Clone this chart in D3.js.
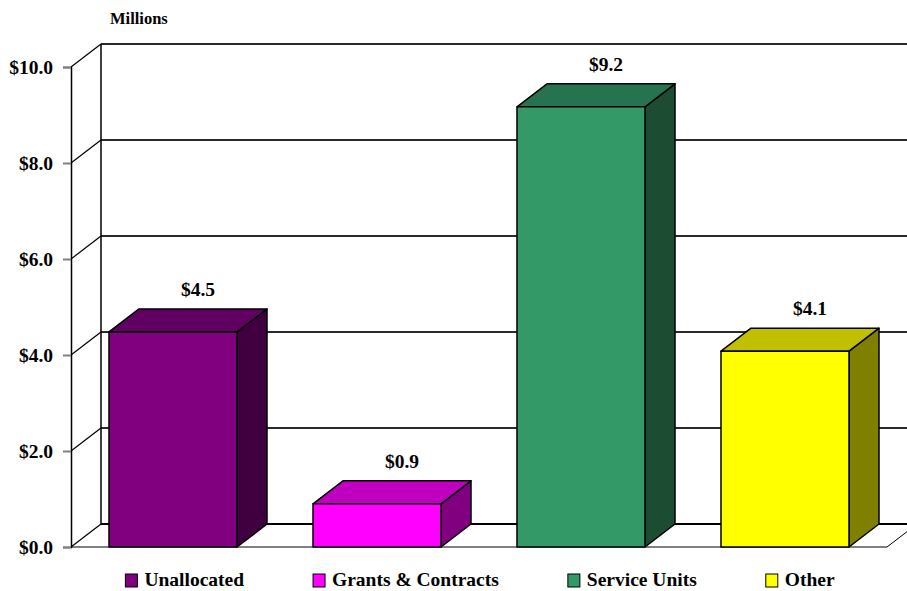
<!DOCTYPE html>
<html>
<head>
<meta charset="utf-8">
<script src="https://cdn.jsdelivr.net/npm/d3@7"></script>
<style>
  html, body { margin: 0; padding: 0; background: #ffffff; }
  svg { display: block; }
  text { font-family: "Liberation Serif", "Times New Roman", serif; font-weight: bold; fill: #000; }
</style>
</head>
<body>
<script>
// ---- Data ----
const categories = ["Unallocated", "Grants & Contracts", "Service Units", "Other"];
const values = [4.48, 0.9, 9.17, 4.08];
const tickValues = [0, 2, 4, 6, 8, 10];
const unitLabel = "Millions";

// ---- Styles ----
const frontColors = ["#800080", "#FF00FF", "#339966", "#FFFF00"];
const topColors   = ["#600060", "#C000C0", "#267350", "#C0C000"];
const sideColors  = ["#400040", "#800080", "#1C4D33", "#808000"];

const W = 907, H = 591;
const svg = d3.select("body").append("svg").attr("width", W).attr("height", H);

const x0 = 71, x1 = 887, yBottom = 547, yTop = 67;
const dx = 30, dy = 23;

const x = d3.scaleBand().domain(categories).range([x0, x1])
  .paddingInner(0.3725).paddingOuter(0.18625);
const y = d3.scaleLinear().domain([0, 10]).range([yBottom, yTop]);

// Gridlines on back wall
const grid = svg.append("g");
tickValues.filter(t => t > 0).forEach(t => {
  grid.append("line")
    .attr("x1", x0 + dx).attr("x2", W + 10)
    .attr("y1", y(t) - dy).attr("y2", y(t) - dy)
    .attr("stroke", "#2a2a2a").attr("stroke-width", 2);
});
// Floor back line
grid.append("line")
  .attr("x1", x0 + dx).attr("x2", W + 10)
  .attr("y1", yBottom - dy).attr("y2", yBottom - dy)
  .attr("stroke", "#000").attr("stroke-width", 2);
// Floor front line
grid.append("line")
  .attr("x1", x0).attr("x2", x1)
  .attr("y1", yBottom).attr("y2", yBottom)
  .attr("stroke", "#808080").attr("stroke-width", 2);
// Floor right diagonal
grid.append("line")
  .attr("x1", x1).attr("y1", yBottom)
  .attr("x2", x1 + dx).attr("y2", yBottom - dy)
  .attr("stroke", "#000").attr("stroke-width", 1);
// Back wall left vertical
grid.append("line")
  .attr("x1", x0 + dx).attr("x2", x0 + dx)
  .attr("y1", y(10) - dy).attr("y2", yBottom - dy)
  .attr("stroke", "#000").attr("stroke-width", 1.5);
// Diagonals from the front axis to the back wall
tickValues.forEach(t => {
  grid.append("line")
    .attr("x1", x0).attr("y1", y(t))
    .attr("x2", x0 + dx).attr("y2", y(t) - dy)
    .attr("stroke", "#000").attr("stroke-width", 1.2);
});

// Front axis
const axis = d3.axisLeft(y).tickValues(tickValues).tickSize(8).tickPadding(10)
  .tickFormat(d => "$" + d3.format(".1f")(d));
const axG = svg.append("g").attr("transform", `translate(${x0},0)`).call(axis);
axG.select(".domain").attr("stroke", "#000").attr("stroke-width", 1.5);
axG.selectAll(".tick line").attr("stroke", "#808080").attr("stroke-width", 2);
axG.selectAll(".tick text")
  .style("font-family", '"Liberation Serif", "Times New Roman", serif')
  .style("font-weight", "bold").style("font-size", "19.5px").attr("fill", "#000");

// Unit label
svg.append("text").attr("x", 110).attr("y", 24)
  .style("font-size", "16.5px").text(unitLabel);

// Bars
const bars = svg.append("g");
categories.forEach((c, i) => {
  const v = values[i];
  const xl = x(c), xr = x(c) + x.bandwidth();
  const yt = y(v), yb = y(0);
  const g = bars.append("g").attr("stroke", "#000").attr("stroke-width", 1.5).attr("stroke-linejoin", "round");
  // side
  g.append("path").attr("fill", sideColors[i])
    .attr("d", `M${xr},${yb}L${xr + dx},${yb - dy}L${xr + dx},${yt - dy}L${xr},${yt}Z`);
  // top
  g.append("path").attr("fill", topColors[i])
    .attr("d", `M${xl},${yt}L${xl + dx},${yt - dy}L${xr + dx},${yt - dy}L${xr},${yt}Z`);
  // front
  g.append("rect").attr("fill", frontColors[i])
    .attr("x", xl).attr("y", yt).attr("width", x.bandwidth()).attr("height", yb - yt);
  // value label
  svg.append("text")
    .attr("x", xl + x.bandwidth() / 2 + 25).attr("y", yt - 36)
    .attr("text-anchor", "middle").style("font-size", "19.5px")
    .text("$" + d3.format(".1f")(v));
});

// Legend
const legend = svg.append("g");
const gap = 69, sq = 12, sqGap = 7;
const items = categories.map((c, i) => {
  const g = legend.append("g");
  g.append("rect").attr("x", 0).attr("y", -12).attr("width", sq).attr("height", 13)
    .attr("fill", frontColors[i]).attr("stroke", "#000").attr("stroke-width", 1);
  const t = g.append("text").attr("x", sq + sqGap).attr("y", 0).style("font-size", "19.5px").text(c);
  const w = sq + sqGap + t.node().getComputedTextLength();
  return { g, w };
});
const total = d3.sum(items, d => d.w) + gap * (items.length - 1);
let cx = 480 - total / 2;
items.forEach(it => {
  it.g.attr("transform", `translate(${cx},586)`);
  cx += it.w + gap;
});
</script>
</body>
</html>
